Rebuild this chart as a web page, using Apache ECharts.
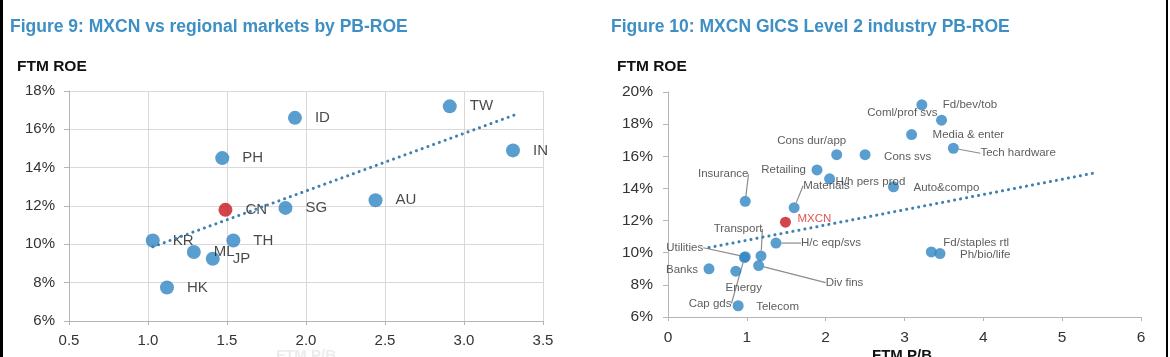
<!DOCTYPE html>
<html>
<head>
<meta charset="utf-8">
<script src="https://cdn.jsdelivr.net/npm/echarts@6/dist/echarts.min.js"></script>
<style>
html,body{margin:0;padding:0;background:#fff;}
#c{width:1170px;height:357px;position:relative;}
.edge{position:absolute;top:0;height:357px;background:#000;z-index:10;}
</style>
</head>
<body>
<div id="c"></div>
<div class="edge" style="left:0;width:3px;"></div>
<div class="edge" style="left:1166px;width:2px;"></div>
<script>
// ---------- Figure 9 data ----------
const leftNames = ['ID','TW','IN','PH','AU','CN','SG','KR','TH','ML','JP','HK'];
const leftPB    = [1.93, 2.91, 3.31, 1.47, 2.44, 1.49, 1.87, 1.03, 1.54, 1.29, 1.41, 1.12];
const leftROE   = [16.6, 17.2, 14.9, 14.5, 12.3, 11.8, 11.9, 10.2, 10.2, 9.6, 9.25, 7.75];
const leftHighlight = 'CN';
const leftTrendPB  = [1.03, 3.33];
const leftTrendROE = [9.87, 16.78];
const leftXTicks = [0.5, 1.0, 1.5, 2.0, 2.5, 3.0, 3.5];
const leftYTicks = [6, 8, 10, 12, 14, 16, 18];

// ---------- Figure 10 data ----------
const rightNames = ['Fd/bev/tob','Coml/prof svs','Media & enter','Tech hardware','Cons dur/app','Cons svs',
  'Retailing','H/h pers prod','Auto&compo','Insurance','Materials','MXCN','H/c eqp/svs','Cap gds','Utilities',
  'Transport','Div fins','Banks','Energy','Telecom','Fd/staples rtl','Ph/bio/life'];
const rightPB  = [3.22, 3.47, 3.09, 3.62, 2.14, 2.50, 1.89, 2.05, 2.86, 0.98, 1.60, 1.49, 1.37, 0.97, 0.98,
  1.18, 1.15, 0.52, 0.86, 0.89, 3.34, 3.45];
const rightROE = [19.2, 18.25, 17.35, 16.5, 16.1, 16.1, 15.15, 14.6, 14.1, 13.2, 12.8, 11.9, 10.6, 9.7, 9.75,
  9.8, 9.2, 9.0, 8.85, 6.7, 10.05, 9.95];
const rightHighlight = 'MXCN';
const rightTrendPB  = [0.52, 5.43];
const rightTrendROE = [10.32, 14.98];
const rightXTicks = [0, 1, 2, 3, 4, 5, 6];
const rightYTicks = [6, 8, 10, 12, 14, 16, 18, 20];

// ---------- styling ----------
const FONT = 'Liberation Sans, Arial, sans-serif';
const BLUE = '#3186c3';
const RED = '#c8161d';
const TREND = '#3f80b0';
const TITLE = '#3d8fc4';

// label placement for figure 10: [align, dx, dy, leader]
const rightPlacement = {
  'Fd/bev/tob': ['left', 21, 0, false],
  'Coml/prof svs': ['right', -4, -7, false],
  'Media & enter': ['left', 21, 0, false],
  'Tech hardware': ['left', 27, 5, true],
  'Cons dur/app': ['center', -25, -14, false],
  'Cons svs': ['left', 19, 2, false],
  'Retailing': ['right', -11, 0, false],
  'H/h pers prod': ['left', 6, 3, false],
  'Auto&compo': ['left', 20, 1, false],
  'Insurance': ['center', -22, -27, true],
  'Materials': ['left', 9, -22, true],
  'MXCN': ['left', 12, -3, false],
  'H/c eqp/svs': ['left', 25, 0, true],
  'Cap gds': ['right', -13, 46, true],
  'Utilities': ['right', -42, -9, true],
  'Transport': ['center', -23, -27, true],
  'Div fins': ['left', 67, 17, true],
  'Banks': ['right', -11, 1, false],
  'Energy': ['center', 8, 17, false],
  'Telecom': ['left', 18, 1, false],
  'Fd/staples rtl': ['left', 12, -9, false],
  'Ph/bio/life': ['left', 20, 1, false]
};

function axisCommon(ticks, fmt, fontSize, margin) {
  return {
    type: 'value',
    min: ticks[0], max: ticks[ticks.length - 1], interval: ticks[1] - ticks[0],
    axisLine: { show: true, lineStyle: { color: '#b5b5b5', width: 1 } },
    axisTick: { show: true, length: 5, lineStyle: { color: '#b5b5b5' } },
    axisLabel: { formatter: fmt, fontSize: fontSize, color: '#333', fontFamily: FONT, margin: margin },
    splitLine: { show: false }
  };
}

const leftData = leftNames.map((n, i) => ({
  name: n, value: [leftPB[i], leftROE[i]],
  itemStyle: { color: n === leftHighlight ? RED : BLUE }
}));
const rightData = rightNames.map((n, i) => {
  const p = rightPlacement[n];
  const d = {
    name: n, value: [rightPB[i], rightROE[i]],
    itemStyle: { color: n === rightHighlight ? RED : BLUE }
  };
  if (n === rightHighlight) d.label = { color: '#d42a2a' };
  if (p[3]) d.labelLine = { show: true, lineStyle: { color: '#8c8c8c', width: 1.2 } };
  return d;
});

const xL = axisCommon(leftXTicks, v => v.toFixed(1), 15, 12);
xL.gridIndex = 0;
xL.splitLine = { show: true, lineStyle: { color: '#d9d9d9' } };
xL.axisTick.length = 4;

const yL = axisCommon(leftYTicks, '{value}%', 15, 14);
yL.gridIndex = 0;
yL.splitLine = { show: true, lineStyle: { color: '#d9d9d9' } };

const xR = axisCommon(rightXTicks, '{value}', 15.5, 13);
xR.gridIndex = 1;
xR.axisTick.length = 4;

const yR = axisCommon(rightYTicks, '{value}%', 15.5, 15);
yR.gridIndex = 1;

const boldText = (text, left, top, color, size) => ({
  text: text, left: left, top: top, padding: 0,
  textStyle: { color: color, fontSize: size, fontWeight: 'bold', fontFamily: FONT }
});

const chart = echarts.init(document.getElementById('c'), null, { renderer: 'canvas' });
chart.setOption({
  animation: false,
  backgroundColor: '#fff',
  title: [
    boldText('Figure 9: MXCN vs regional markets by PB-ROE', 10, 18, TITLE, 17.5),
    boldText('Figure 10: MXCN GICS Level 2 industry PB-ROE', 611, 18, TITLE, 17.5),
    boldText('FTM ROE', 17, 59, '#111', 15.5),
    boldText('FTM ROE', 617, 59, '#111', 15.5),
    boldText('FTM P/B', 276, 348, '#ececec', 15),
    boldText('FTM P/B', 872, 348, '#111', 15)
  ],
  grid: [
    { left: 69, top: 91, width: 474, height: 230, outerBoundsMode: 'none', containLabel: false },
    { left: 668, top: 92, width: 473, height: 225, outerBoundsMode: 'none', containLabel: false }
  ],
  xAxis: [xL, xR],
  yAxis: [yL, yR],
  series: [
    {
      type: 'line', xAxisIndex: 0, yAxisIndex: 0, symbol: 'none', silent: true,
      data: leftTrendPB.map((x, i) => [x, leftTrendROE[i]]),
      lineStyle: { color: TREND, width: 3, type: [0.1, 6], cap: 'round' }
    },
    {
      type: 'scatter', xAxisIndex: 0, yAxisIndex: 0, symbolSize: 14,
      data: leftData,
      label: { show: true, position: 'right', distance: 13, formatter: '{b}',
        fontSize: 15, color: '#1a1a1a', fontFamily: FONT }
    },
    {
      type: 'line', xAxisIndex: 1, yAxisIndex: 1, symbol: 'none', silent: true,
      data: rightTrendPB.map((x, i) => [x, rightTrendROE[i]]),
      lineStyle: { color: TREND, width: 3, type: [0.1, 6], cap: 'round' }
    },
    {
      type: 'scatter', xAxisIndex: 1, yAxisIndex: 1, symbolSize: 11,
      data: rightData,
      label: { show: true, position: 'inside', formatter: '{b}',
        fontSize: 11.5, color: '#333', fontFamily: FONT },
      labelLayout: function (params) {
        const p = rightPlacement[rightNames[params.dataIndex]];
        const cx = params.rect.x + params.rect.width / 2;
        const cy = params.rect.y + params.rect.height / 2;
        return { x: cx + p[1], y: cy + p[2], align: p[0], verticalAlign: 'middle' };
      }
    }
  ]
});
</script>
</body>
</html>
